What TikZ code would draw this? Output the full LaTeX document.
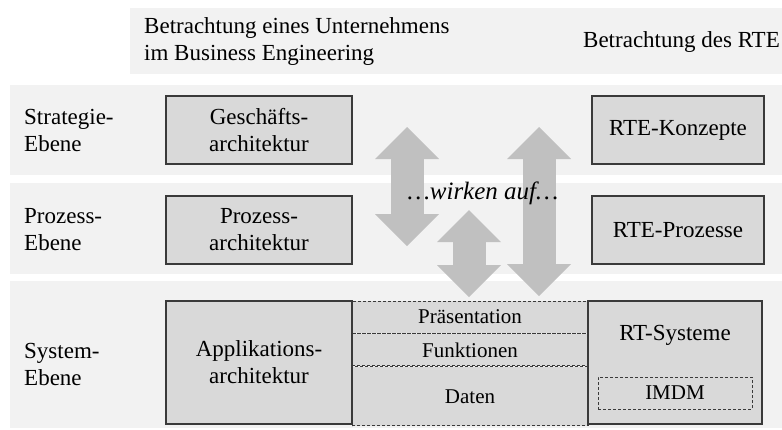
\documentclass[tikz,border=0pt]{standalone}
\usepackage{fontspec}
\setmainfont{Liberation Serif}
\usepackage{xcolor}
\usetikzlibrary{arrows.meta, positioning}

\definecolor{bandgray}{HTML}{F2F2F2}
\definecolor{boxgray}{HTML}{D9D9D9}
\definecolor{arrowgray}{HTML}{C0C0C0}
\definecolor{linegray}{HTML}{3A3A3A}

\begin{document}
\begin{tikzpicture}[x=1pt, y=-1pt,
    band/.style={fill=bandgray},
    level/.style={anchor=west, align=left, inner sep=0pt, font=\fontsize{23}{27}\selectfont},
    archbox/.style={rectangle, draw=linegray, fill=boxgray, line width=1.1pt, minimum width=186pt, minimum height=68pt, align=center, inner sep=0pt, font=\fontsize{23}{27}\selectfont},
    cell/.style={rectangle, draw=linegray, dash pattern=on 3pt off 2pt, line width=0.9pt, fill=boxgray, minimum width=236pt, minimum height=32pt, inner sep=0pt, font=\fontsize{21}{24}\selectfont},
    wirkpfeil/.style={draw=arrowgray, line width=33pt, {Triangle[width=64pt,length=32pt,line width=0pt]}-{Triangle[width=64pt,length=32pt,line width=0pt]}}
]
\useasboundingbox (0,0) rectangle (782,429);

% Hintergrundbaender
\fill[band] (130,8) rectangle (782,74);
\fill[band] (10,85) rectangle (782,175);
\fill[band] (10,183) rectangle (782,274);
\fill[band] (10,281) rectangle (782,428);

\node[level] (kopfbe) at (144,41) {Betrachtung eines Unternehmens\\im Business Engineering};
\node[level, anchor=east] (kopfrte) at (780,42) {Betrachtung des RTE};

\node[level] (strat) at (24,130) {Strategie-\\Ebene};
\node[level] (proz) at (24,230) {Prozess-\\Ebene};
\node[level] (sys) at (24,364) {System-\\Ebene};

% Architekturen
\node[archbox] (gesch) at (259,130) {Geschäfts-\\architektur};
\node[archbox, minimum width=172pt] (rtek) at (678,130) {RTE-Konzepte};
\node[archbox] (prozarch) at (259,230) {Prozess-\\architektur};
\node[archbox, minimum width=172pt] (rtep) at (678,230) {RTE-Prozesse};

\node[cell] (praes) at (470,317) {Präsentation};
\node[cell, below=0pt of praes] (funk) {Funktionen};
\node[cell, below=0pt of funk, minimum height=59pt] (daten) {Daten};

\node[archbox, minimum height=123pt] (appl) at (259,362.5) {Applikations-\\architektur};
\node[archbox, minimum width=174pt, minimum height=123pt] (rts) at (675,362.5) {};
\node[level, anchor=center] (rtslabel) at (675,335) {RT-Systeme};
\node[cell, line width=0.8pt, minimum width=154pt] (imdm) at (675,393) {IMDM};

% wirken auf
\coordinate (p1o) at (407,127);
\coordinate (p1u) at (407,246);
\coordinate (p2o) at (539,127);
\coordinate (p2u) at (539,296);
\coordinate (p3o) at (469,210);
\coordinate (p3u) at (469,297);
\draw[wirkpfeil] (p1o) -- (p1u);
\draw[wirkpfeil] (p2o) -- (p2u);
\draw[wirkpfeil] (p3o) -- (p3u);

\node[font=\fontsize{25}{28}\selectfont\itshape, inner sep=0pt] (wirk) at (483,193) {…wirken auf…};

\end{tikzpicture}
\end{document}
